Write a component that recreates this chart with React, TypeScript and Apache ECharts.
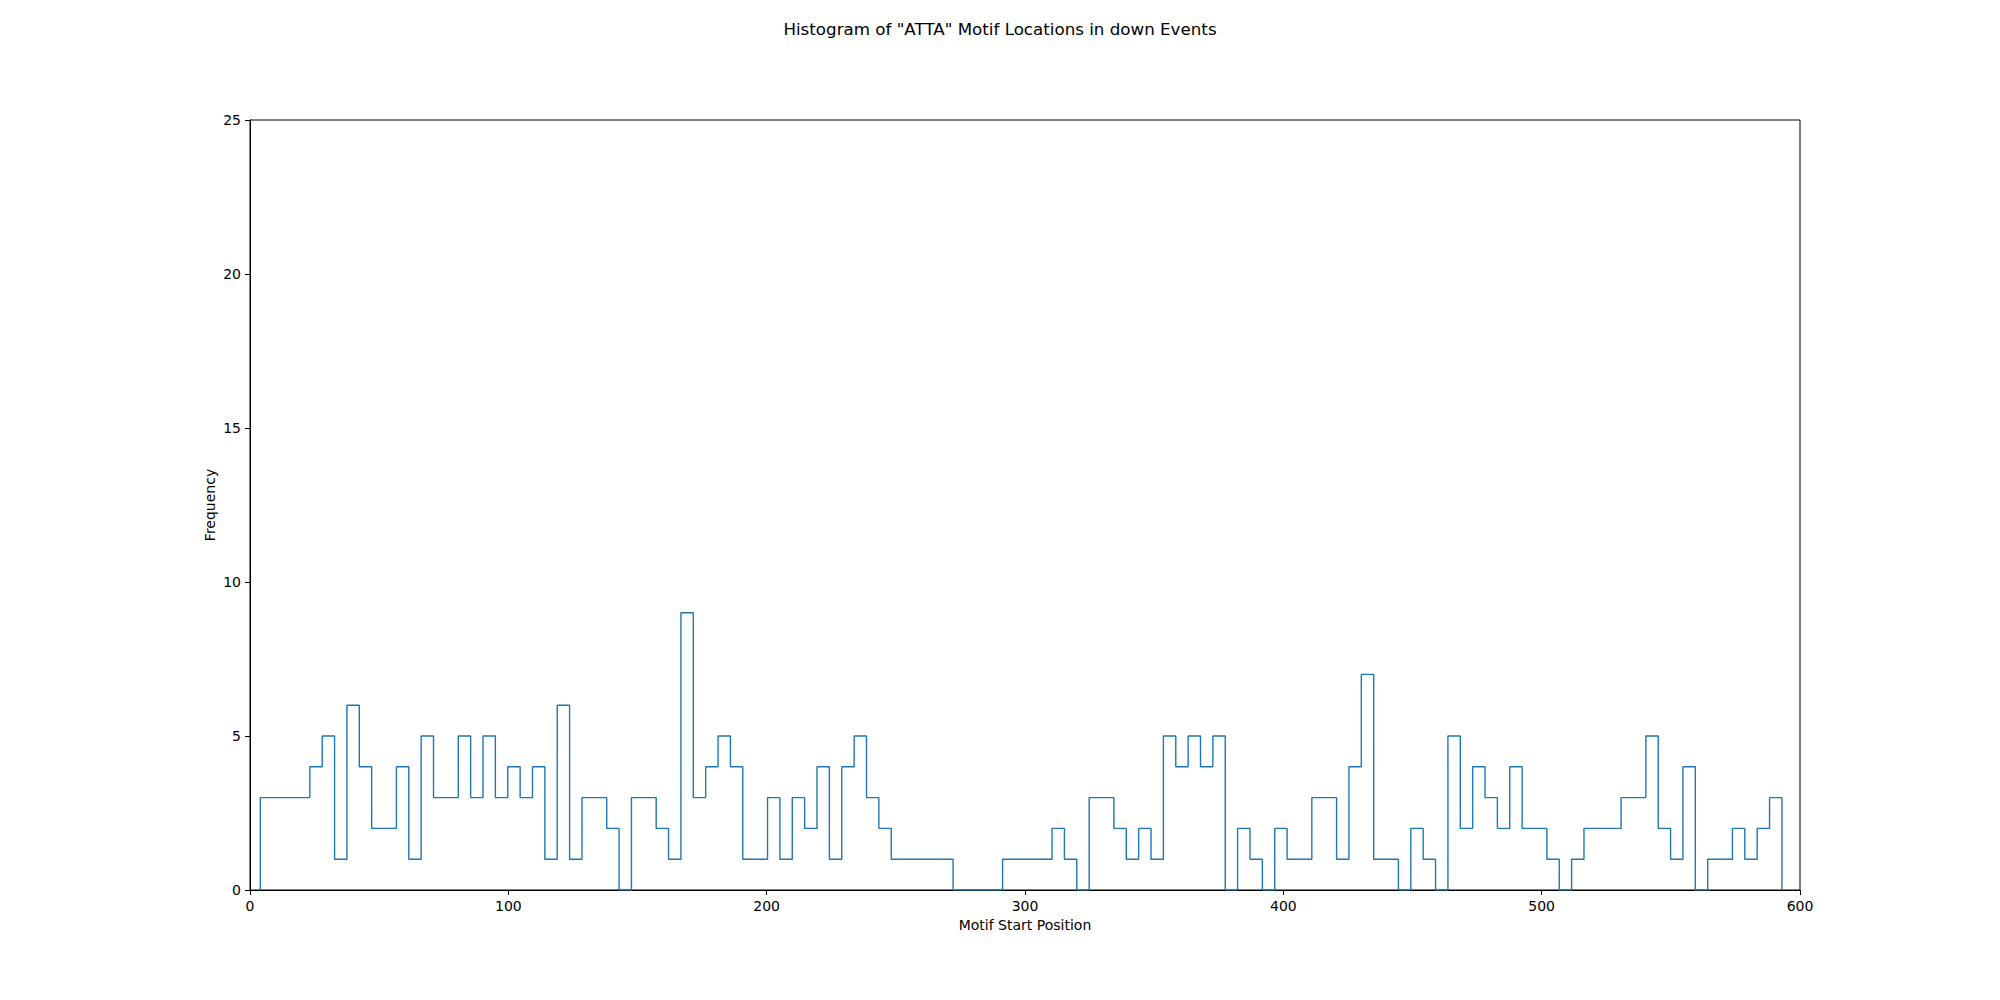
import React, { useEffect, useRef } from "react";
import * as echarts from "echarts";

const titleText = 'Histogram of "ATTA" Motif Locations in down Events';
const xLabel = "Motif Start Position";
const yLabel = "Frequency";

// histogram range and bin counts (123 bins)
const binStart = 4;
const binEnd = 593;
const counts = [
  3, 3, 3, 3, 4, 5, 1, 6, 4, 2, 2, 4, 1, 5, 3, 3, 5, 3, 5, 3,
  4, 3, 4, 1, 6, 1, 3, 3, 2, 0, 3, 3, 2, 1, 9, 3, 4, 5, 4, 1, 1,
  3, 1, 3, 2, 4, 1, 4, 5, 3, 2, 1, 1, 1, 1, 1, 0, 0, 0, 0,
  1, 1, 1, 1,
  2, 1, 0, 3, 3, 2, 1, 2, 1, 5, 4, 5, 4, 5, 0, 2, 1, 0, 2,
  1, 1, 3, 3, 1, 4, 7, 1, 1, 0, 2, 1, 0, 5, 2, 4, 3, 2, 4, 2, 2,
  1, 0, 1, 2, 2, 2, 3, 3, 5, 2, 1, 4, 0, 1, 1, 2, 1, 2, 3,
];

const font = "DejaVu Sans";

export default function App() {
  const ref = useRef<HTMLDivElement>(null);
  useEffect(() => {
    document.body.style.margin = "0";
    if (!ref.current) return;
    const chart = echarts.init(ref.current, undefined, { renderer: "svg" });
    const n = counts.length;
    const w = (binEnd - binStart) / n;
    const pts: [number, number][] = [[binStart, 0]];
    counts.forEach((c, i) => {
      pts.push([binStart + i * w, c]);
      pts.push([binStart + (i + 1) * w, c]);
    });
    pts.push([binEnd, 0]);

    chart.setOption({
      animation: false,
      backgroundColor: "#ffffff",
      title: {
        text: titleText,
        left: "center",
        top: 15,
        textStyle: { fontFamily: font, fontSize: 16.7, fontWeight: "normal", color: "#000" },
      },
      grid: {
        left: 250,
        right: 200,
        top: 120,
        bottom: 110,
        show: true,
        borderColor: "#000",
        borderWidth: 1,
        backgroundColor: "transparent",
      },
      xAxis: {
        type: "value",
        min: 0,
        max: 600,
        interval: 100,
        name: xLabel,
        nameLocation: "middle",
        nameGap: 28,
        nameMoveOverlap: false,
        nameTextStyle: { fontFamily: font, fontSize: 14, color: "#000" },
        axisLine: { show: true, lineStyle: { color: "#000", width: 1 } },
        axisTick: { show: true, length: 5, lineStyle: { color: "#000" } },
        axisLabel: { fontFamily: font, fontSize: 14, color: "#000", margin: 9 },
        splitLine: { show: false },
      },
      yAxis: {
        type: "value",
        min: 0,
        max: 25,
        interval: 5,
        name: yLabel,
        nameLocation: "middle",
        nameRotate: 90,
        nameGap: 33,
        nameMoveOverlap: false,
        nameTextStyle: { fontFamily: font, fontSize: 14, color: "#000" },
        axisLine: { show: true, lineStyle: { color: "#000", width: 1 } },
        axisTick: { show: true, length: 5, lineStyle: { color: "#000" } },
        axisLabel: { fontFamily: font, fontSize: 14, color: "#000", margin: 9 },
        splitLine: { show: false },
      },
      series: [
        {
          type: "line",
          data: pts,
          showSymbol: false,
          symbol: "none",
          lineStyle: { color: "#1f77b4", width: 1.4 },
          clip: true,
        },
      ],
    });
    return () => chart.dispose();
  }, []);
  return <div ref={ref} style={{ width: 2000, height: 1000 }} />;
}
